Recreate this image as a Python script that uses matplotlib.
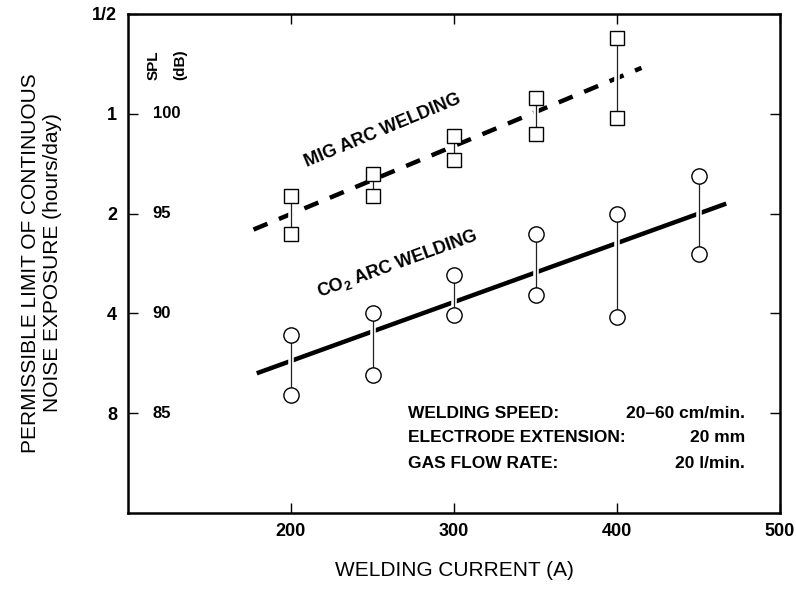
import matplotlib
matplotlib.use("Agg")
import matplotlib.pyplot as plt

plt.rcParams['font.family'] = ['Liberation Sans', 'DejaVu Sans']
plt.rcParams['mathtext.default'] = 'regular'

# ---- data (SPL in dB) ----
mig_current = [200, 250, 300, 350, 400]
mig_upper = [95.9, 97.0, 98.9, 100.8, 103.8]
mig_lower = [94.0, 95.9, 97.7, 99.0, 99.8]

co2_current = [200, 250, 300, 350, 400, 450]
co2_upper = [88.9, 90.0, 91.9, 94.0, 95.0, 96.9]
co2_lower = [85.9, 86.9, 89.9, 90.9, 89.8, 93.0]

mig_fit_x = [177, 415]
mig_fit_y = [94.2, 102.3]
co2_fit_x = [179, 467]
co2_fit_y = [87.0, 95.5]

xticks = [200, 300, 400, 500]
xtick_labels = ['200', '300', '400', '500']
spl_ticks = [105, 100, 95, 90, 85]
hour_labels = ['1/2', '1', '2', '4', '8']
db_labels = ['100', '95', '90', '85']

fig = plt.figure(figsize=(7.96, 5.90), dpi=100)
ax = fig.add_axes([128/796, 1-513/590, (780-128)/796, (513-14)/590])
ax.set_xlim(100, 500)
ax.set_ylim(80, 105)

# fitted lines
ax.plot(mig_fit_x, mig_fit_y, color='black', lw=3.2, dashes=(3.4, 2.8),
        solid_capstyle='butt', dash_capstyle='butt', zorder=2)
ax.plot(co2_fit_x, co2_fit_y, color='black', lw=3.2, solid_capstyle='butt', zorder=2)

# connectors with white halo
ax.vlines(mig_current, mig_lower, mig_upper, color='white', lw=4, zorder=3)
ax.vlines(co2_current, co2_lower, co2_upper, color='white', lw=4, zorder=3)
ax.vlines(mig_current, mig_lower, mig_upper, color='#222222', lw=0.9, zorder=4)
ax.vlines(co2_current, co2_lower, co2_upper, color='#222222', lw=0.9, zorder=4)

# markers
for ys in (mig_upper, mig_lower):
    ax.plot(mig_current, ys, ls='none', marker='s', ms=10.5, mfc='white',
            mec='black', mew=1.0, zorder=5)
for ys in (co2_upper, co2_lower):
    ax.plot(co2_current, ys, ls='none', marker='o', ms=11, mfc='white',
            mec='black', mew=1.0, zorder=5)

# ticks
ax.set_xticks(xticks)
ax.set_xticklabels(xtick_labels, fontsize=13, fontweight='bold')
ax.set_yticks(spl_ticks)
ax.set_yticklabels(hour_labels, fontsize=13, fontweight='bold')
ax.tick_params(axis='both', direction='in', length=7, width=1.0,
               top=True, right=True)
ax.tick_params(axis='x', pad=7)
ax.tick_params(axis='y', pad=8)
for s in ax.spines.values():
    s.set_linewidth(1.8)

# dB labels inside the axes
for v, lab in zip(spl_ticks[1:], db_labels):
    ax.text(0.038, v, lab, transform=ax.get_yaxis_transform(),
            ha='left', va='center', fontsize=12, fontweight='bold')
ax.text(115.5, 101.7, 'SPL', rotation=90, ha='center', va='bottom',
        fontsize=11, fontweight='bold')
ax.text(132, 101.7, '(dB)', rotation=90, ha='center', va='bottom',
        fontsize=11, fontweight='bold')

# series labels
ax.text(256, 99.14, 'MIG ARC WELDING', rotation=22.6, rotation_mode='anchor',
        ha='center', va='center', fontsize=13, fontweight='bold')
ax.text(265, 92.5, 'CO$_2$ ARC WELDING', rotation=19.9, rotation_mode='anchor',
        ha='center', va='center', fontsize=13, fontweight='bold')

# conditions
cond_left = ['WELDING SPEED:', 'ELECTRODE EXTENSION:', 'GAS FLOW RATE:']
cond_right = ['20\u201360 cm/min.', '20 mm', '20 l/min.']
cond_y = [85.0, 83.76, 82.5]
for l, r, y in zip(cond_left, cond_right, cond_y):
    ax.text(272, y, l, ha='left', va='center', fontsize=12.5, fontweight='bold')
    ax.text(478.5, y, r, ha='right', va='center', fontsize=12.5, fontweight='bold')

fig.text(454/796, 1-570/590, 'WELDING CURRENT (A)', ha='center', va='center',
         fontsize=15)
fig.text(42/796, 1-263/590, 'PERMISSIBLE LIMIT OF CONTINUOUS\nNOISE EXPOSURE (hours/day)',
         ha='center', va='center', rotation=90, fontsize=15, linespacing=1.2)

fig.savefig('out.png', dpi=100)
